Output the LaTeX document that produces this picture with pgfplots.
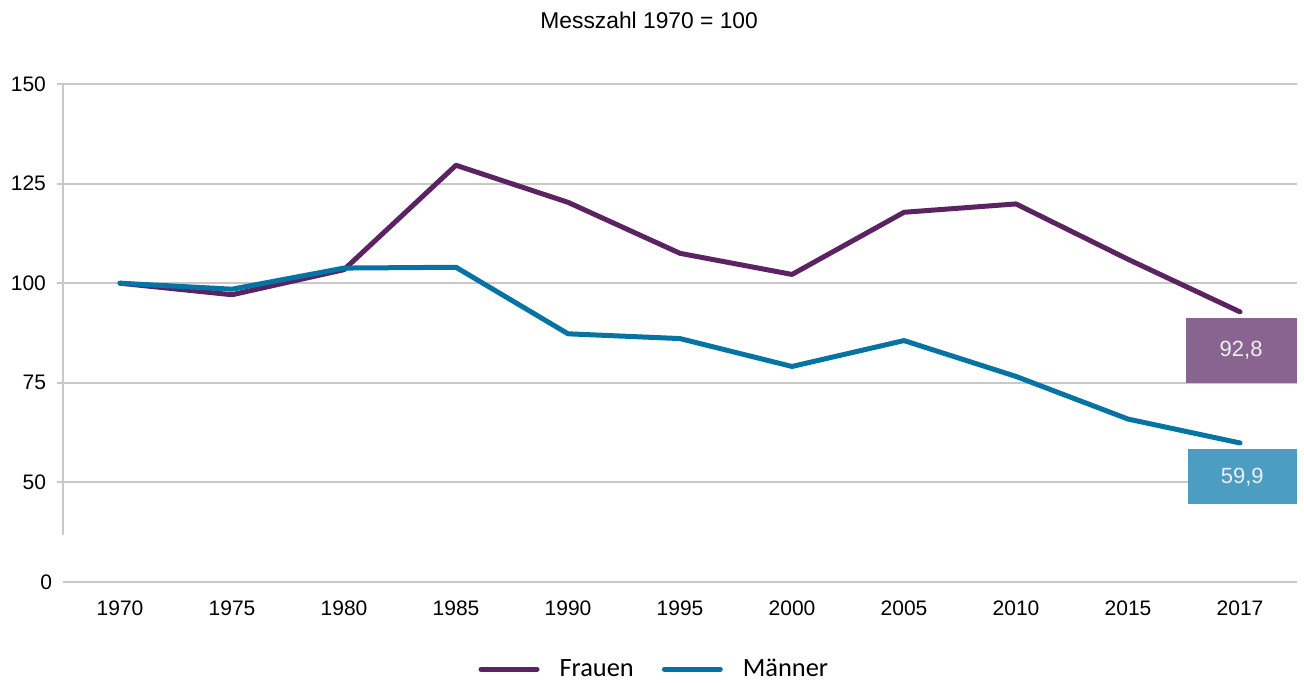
\documentclass[border=0pt]{standalone}
\usepackage{fontspec}
\setmainfont{Liberation Sans}
\newfontfamily\calibri{Carlito}
\usepackage{pgfplots}
\pgfplotsset{compat=1.18}
\definecolor{frauen}{HTML}{5C2363}
\definecolor{maenner}{HTML}{0673A3}
\definecolor{boxpurple}{HTML}{8A6490}
\definecolor{boxblue}{HTML}{4B9DC1}
\definecolor{gridgray}{HTML}{C8C8C8}
\begin{document}
\begin{tikzpicture}
\path[use as bounding box] (-31.5pt,-50pt) rectangle (620.5pt,291pt);
\begin{axis}[
    at={(0,0)}, anchor=south west,
    scale only axis, width=617pt, height=249pt,
    xmin=-0.509, xmax=10.509,
    ymin=25, ymax=150,
    ytick={50,75,100,125,150},
    extra y ticks={25}, extra y tick labels={0},
    extra y tick style={grid=none, major tick length=0pt},
    xtick={0,...,10},
    xticklabels={1970,1975,1980,1985,1990,1995,2000,2005,2010,2015,2017},
    axis line style={draw=none},
    ymajorgrids,
    major grid style={gridgray, line width=1pt},
    ytick pos=left,
    ytick style={gridgray, line width=1pt},
    major tick length=3pt,
    tick align=outside,
    xtick style={draw=none},
    tick label style={font=\fontsize{10.5}{12}\selectfont},
    xticklabel style={yshift=-3pt},
    yticklabel style={xshift=-2pt},
    /pgf/number format/assume math mode=true,
    clip=false,
    legend columns=2,
    legend style={at={(0.48,-0.175)}, anchor=center, draw=none, fill=none,
        font=\calibri\fontsize{13.2}{15}\selectfont,
        /tikz/every even column/.append style={column sep=12pt}},
    legend image code/.code={\draw[#1, line width=2.5pt, line cap=round] (0pt,0pt) -- (28pt,0pt);
        \path (36pt,0pt);},
  ]
  \addplot[frauen, line width=2.5pt, line cap=round, line join=round] coordinates {
    (0,100) (1,97.1) (2,103.4) (3,129.6) (4,120.3) (5,107.5)
    (6,102.2) (7,117.8) (8,119.9) (9,106.0) (10,92.8)
  };
  \addlegendentry{Frauen}
  \addplot[maenner, line width=2.5pt, line cap=round, line join=round] coordinates {
    (0,100) (1,98.5) (2,103.8) (3,104.0) (4,87.3) (5,86.1)
    (6,79.1) (7,85.6) (8,76.6) (9,65.9) (10,59.9)
  };
  \addlegendentry{M\"anner}
  % broken y axis line and x axis line
  \draw[gridgray, line width=1pt] (axis cs:-0.509,150) -- (axis cs:-0.509,36.7);
  \draw[gridgray, line width=1pt] (rel axis cs:0,0) -- (rel axis cs:1,0);
  % value boxes
  \fill[boxpurple] (axis cs:9.52,91.3) rectangle (axis cs:10.509,75);
  \node[text=white!94!black, font=\fontsize{11}{13}\selectfont] at (axis cs:10.01,83.15) {92,8};
  \fill[boxblue] (axis cs:9.54,58.3) rectangle (axis cs:10.509,44.5);
  \node[text=white!94!black, font=\fontsize{11}{13}\selectfont] at (axis cs:10.02,51.4) {59,9};
  % title
  \node[font=\fontsize{11.4}{13}\selectfont] at ([yshift=32pt]rel axis cs:0.475,1) {Messzahl 1970 = 100};
\end{axis}
\end{tikzpicture}
\end{document}
